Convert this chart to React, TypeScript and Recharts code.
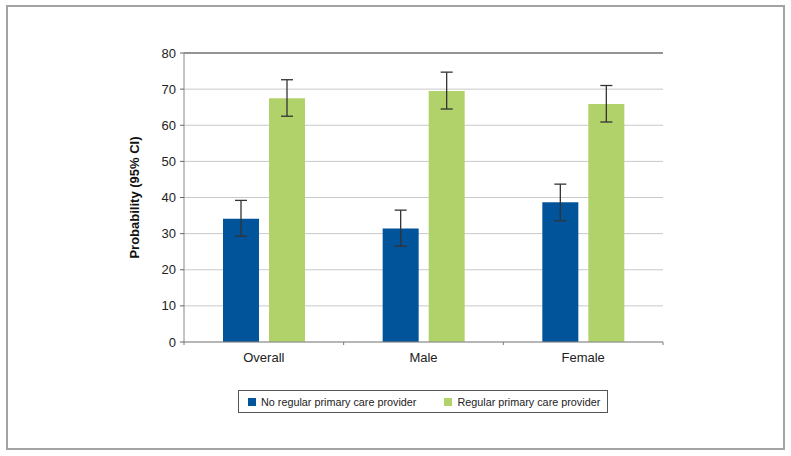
import { BarChart, Bar, XAxis, YAxis, CartesianGrid, ErrorBar, ReferenceLine } from 'recharts';

const categories = ['Overall', 'Male', 'Female'];
const noRegular = [34.1, 31.4, 38.7];
const noRegularLow = [29.3, 26.5, 33.6];
const noRegularHigh = [39.2, 36.5, 43.7];
const regular = [67.5, 69.5, 65.9];
const regularLow = [62.5, 64.5, 60.9];
const regularHigh = [72.6, 74.7, 71.0];
const yTicks = [0, 10, 20, 30, 40, 50, 60, 70, 80];
const seriesNames = ['No regular primary care provider', 'Regular primary care provider'];

const BLUE = '#01539A';
const GREEN = '#B1D16B';
const FONT = '"Liberation Sans", Arial, sans-serif';
const X_TICK_SIZE = 4;
const X_TICK_MARGIN = 7;

const data = categories.map((name, i) => ({
    name,
    noRegular: noRegular[i],
    noRegularErr: [noRegular[i] - noRegularLow[i], noRegularHigh[i] - noRegular[i]],
    regular: regular[i],
    regularErr: [regular[i] - regularLow[i], regularHigh[i] - regular[i]],
}));

function YLabel(props: any) {
    const { viewBox } = props;
    const x = viewBox.x + 10;
    const y = viewBox.y + viewBox.height / 2;
    return (
        <text x={x} y={y} transform={`rotate(-90, ${x}, ${y})`} textAnchor="middle" dominantBaseline="central"
            fontFamily={FONT} fontSize={13} fontWeight="bold" fill="#111">
            Probability (95% CI)
        </text>
    );
}

// category label plus small tick marks at the band boundaries
function XTick(props: any) {
    const { x, y, payload, index, visibleTicksCount } = props;
    const half = payload?.offset || 0;
    const axisY = y - X_TICK_SIZE - X_TICK_MARGIN;
    return (
        <g>
            <line x1={x - half} x2={x - half} y1={axisY} y2={axisY + 3} stroke="#777" />
            {index === visibleTicksCount - 1 && (
                <line x1={x + half} x2={x + half} y1={axisY} y2={axisY + 3} stroke="#777" />
            )}
            <text x={x} y={y} dy="0.71em" textAnchor="middle" fontFamily={FONT} fontSize={13} fill="#222">
                {payload.value}
            </text>
        </g>
    );
}

export default function App() {
    return (
        <div style={{ position: 'absolute', left: 0, top: 0, width: 791, height: 456, background: '#fff', fontFamily: FONT }}>
            {/* outer frame */}
            <div style={{ position: 'absolute', left: 6, top: 5, width: 775, height: 441, border: '2px solid #a3a3a3' }} />
            <div style={{ position: 'absolute', left: 0, top: 0 }}>
                <BarChart width={791} height={456} data={data} barSize={36} barGap={10}
                    margin={{ top: 53, right: 128, bottom: 84, left: 124 }}>
                    <CartesianGrid vertical={false} stroke="#c9c9c9" strokeWidth={1} />
                    <XAxis dataKey="name" height={30} axisLine={{ stroke: '#888' }} tickLine={false}
                        tickSize={X_TICK_SIZE} tickMargin={X_TICK_MARGIN} tick={<XTick />} />
                    <YAxis domain={[0, 80]} ticks={yTicks} width={60} interval={0}
                        axisLine={{ stroke: '#888' }} tickLine={{ stroke: '#666' }} tickSize={4} tickMargin={4}
                        tick={{ fontSize: 13, fill: '#222', fontFamily: FONT }}
                        label={<YLabel />} />
                    <YAxis yAxisId="r" orientation="right" domain={[0, 80]} width={0} tick={false} tickLine={false}
                        axisLine={{ stroke: '#999' }} />
                    <ReferenceLine y={80} stroke="#444" strokeWidth={1} />
                    <Bar dataKey="noRegular" fill={BLUE} isAnimationActive={false}>
                        <ErrorBar dataKey="noRegularErr" width={6} stroke="#333" strokeWidth={1.3} direction="y" />
                    </Bar>
                    <Bar dataKey="regular" fill={GREEN} isAnimationActive={false}>
                        <ErrorBar dataKey="regularErr" width={6} stroke="#333" strokeWidth={1.3} direction="y" />
                    </Bar>
                </BarChart>
            </div>
            {/* legend */}
            <div style={{ position: 'absolute', left: 238, top: 390, width: 370, height: 23, border: '1px solid #555',
                boxSizing: 'border-box', display: 'flex', alignItems: 'center', fontSize: 10.8, color: '#222',
                whiteSpace: 'nowrap' }}>
                <span style={{ display: 'inline-block', flexShrink: 0, width: 8, height: 8, background: BLUE, marginLeft: 9, marginRight: 5 }} />
                <span>{seriesNames[0]}</span>
                <span style={{ display: 'inline-block', flexShrink: 0, width: 8, height: 8, background: GREEN, marginLeft: 28, marginRight: 5 }} />
                <span>{seriesNames[1]}</span>
            </div>
        </div>
    );
}
